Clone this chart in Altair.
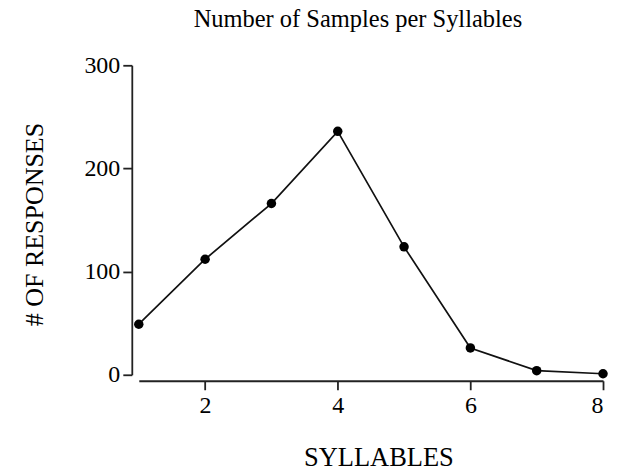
import altair as alt
import pandas as pd

syllables = [1, 2, 3, 4, 5, 6, 7, 8]
responses = [49, 112, 166, 236, 124, 26, 4, 1]
x_ticks = [2, 4, 6, 8]
y_ticks = [0, 100, 200, 300]

df = pd.DataFrame({"syllables": syllables, "responses": responses})

FONT = "Liberation Serif"

x_enc = alt.X(
    "syllables:Q",
    scale=alt.Scale(domain=[1, 8], nice=False, zero=False),
    axis=alt.Axis(
        title="SYLLABLES",
        values=x_ticks,
        offset=6,
        grid=False,
        tickSize=9,
        labelPadding=4,
        titlePadding=27,
        titleX=240,
        labelFont=FONT,
        labelFontSize=24,
        titleFont=FONT,
        titleFontSize=26.5,
        titleFontWeight="normal",
        labelColor="black",
        titleColor="black",
        domainColor="#222",
        tickColor="#222",
        domainWidth=1.8,
        tickWidth=1.8,
    ),
)
y_enc = alt.Y(
    "responses:Q",
    scale=alt.Scale(domain=[0, 300], nice=False),
    axis=alt.Axis(
        title="# OF RESPONSES",
        values=y_ticks,
        offset=7,
        grid=False,
        tickSize=9,
        labelPadding=3,
        titlePadding=36,
        titleY=159,
        labelFont=FONT,
        labelFontSize=24,
        titleFont=FONT,
        titleFontSize=26,
        titleFontWeight="normal",
        labelColor="black",
        titleColor="black",
        domainColor="#222",
        tickColor="#222",
        domainWidth=1.8,
        tickWidth=1.8,
    ),
)

base = alt.Chart(df).encode(x=x_enc, y=y_enc)
line = base.mark_line(color="#111", strokeWidth=1.7)
points = base.mark_circle(color="black", size=90, opacity=1)

chart = (
    (line + points)
    .properties(
        width=465,
        height=310,
        background="white",
        title=alt.TitleParams(
            "Number of Samples per Syllables",
            font=FONT,
            fontSize=24.5,
            fontWeight="normal",
            color="black",
            anchor="middle",
            dx=-13,
            offset=21,
        ),
        autosize=alt.AutoSizeParams(type="none"),
        padding={"left": 131, "top": 57, "right": 10, "bottom": 95},
    )
    .configure_view(stroke=None)
)

chart.save("out.html", embed_options={"renderer": "svg", "actions": False})
